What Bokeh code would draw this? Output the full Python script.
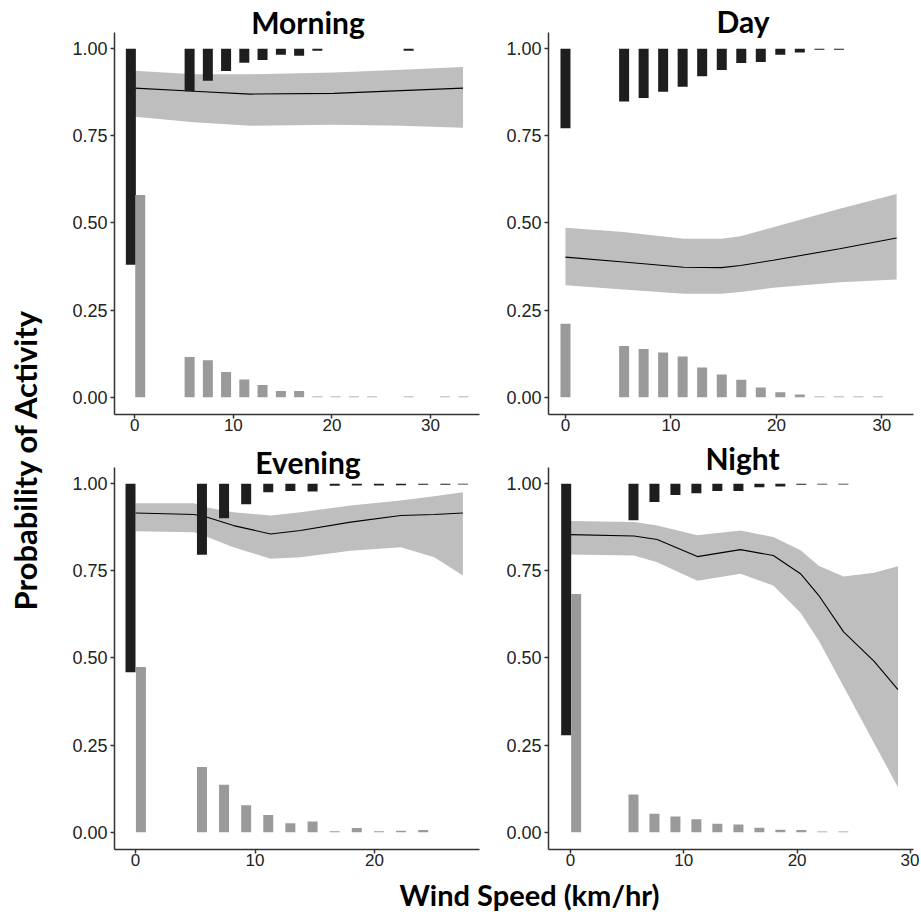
import math
from bokeh.plotting import figure
from bokeh.layouts import row, column
from bokeh.models import Range1d, FixedTicker, NumeralTickFormatter, Label, ColumnDataSource
from bokeh.embed import file_html
from bokeh.resources import INLINE

# ---------------- data ----------------
panel_titles = ["Morning", "Day", "Evening", "Night"]
x_axis_title = "Wind Speed (km/hr)"
y_axis_title = "Probability of Activity"
y_ticks = [0.0, 0.25, 0.5, 0.75, 1.0]

# Morning
morning_fit_x = [0, 6.0, 11.7, 20.2, 27.0, 33.3]
morning_fit = [0.887, 0.878, 0.870, 0.872, 0.880, 0.887]
morning_hi = [0.937, 0.927, 0.927, 0.932, 0.940, 0.948]
morning_lo = [0.805, 0.789, 0.779, 0.782, 0.779, 0.773]
morning_active_x = [-0.4, 5.56, 7.41, 9.26, 11.11, 12.96, 14.82, 16.67, 18.52, 27.78]
morning_active_end = [0.38, 0.878, 0.908, 0.936, 0.960, 0.968, 0.983, 0.980, 0.994, 0.994]
morning_inactive_x = [0.55, 5.56, 7.41, 9.26, 11.11, 12.96, 14.82, 16.67, 18.52, 20.37, 22.22, 24.08, 27.78, 31.48, 33.34]
morning_inactive_end = [0.58, 0.115, 0.106, 0.072, 0.051, 0.035, 0.018, 0.018, 0.002, 0.002, 0.002, 0.002, 0.002, 0.002, 0.002]
morning_xticks = [0, 10, 20, 30]

# Day
day_fit_x = [0, 5.5, 11.2, 14.8, 16.6, 19.7, 26.0, 31.4]
day_fit = [0.402, 0.388, 0.373, 0.372, 0.378, 0.393, 0.426, 0.457]
day_hi = [0.486, 0.474, 0.455, 0.455, 0.462, 0.488, 0.541, 0.583]
day_lo = [0.321, 0.309, 0.297, 0.297, 0.302, 0.314, 0.330, 0.338]
day_active_x = [0.0, 5.56, 7.41, 9.26, 11.11, 12.96, 14.82, 16.67, 18.52, 20.37, 22.22, 24.08, 25.93]
day_active_end = [0.772, 0.849, 0.859, 0.877, 0.891, 0.921, 0.939, 0.959, 0.962, 0.983, 0.989, 0.997, 0.997]
day_inactive_x = [0.0, 5.56, 7.41, 9.26, 11.11, 12.96, 14.82, 16.67, 18.52, 20.37, 22.22, 24.08, 25.93, 27.78, 29.63]
day_inactive_end = [0.211, 0.147, 0.138, 0.128, 0.117, 0.085, 0.065, 0.050, 0.028, 0.014, 0.0075, 0.002, 0.002, 0.002, 0.002]
day_xticks = [0, 10, 20, 30]

# Evening
evening_fit_x = [0, 4.9, 6.0, 8.2, 11.3, 13.8, 18.0, 22.2, 25.0, 27.4]
evening_fit = [0.916, 0.912, 0.904, 0.880, 0.856, 0.866, 0.890, 0.909, 0.912, 0.916]
evening_hi = [0.944, 0.944, 0.932, 0.918, 0.909, 0.918, 0.938, 0.952, 0.964, 0.976]
evening_lo = [0.864, 0.861, 0.847, 0.818, 0.785, 0.789, 0.808, 0.818, 0.789, 0.737]
evening_active_x = [-0.42, 5.56, 7.41, 9.26, 11.11, 12.96, 14.82, 16.67, 18.52, 20.37, 22.22, 24.08, 25.93, 27.4]
evening_active_end = [0.459, 0.796, 0.901, 0.941, 0.976, 0.979, 0.978, 0.994, 0.995, 0.995, 0.996, 0.997, 0.997, 0.998]
evening_inactive_x = [0.45, 5.56, 7.41, 9.26, 11.11, 12.96, 14.82, 16.67, 18.52, 20.37, 22.22, 24.08]
evening_inactive_end = [0.474, 0.187, 0.136, 0.077, 0.049, 0.026, 0.031, 0.003, 0.012, 0.003, 0.004, 0.006]
evening_xticks = [0, 10, 20]

# Night
night_fit_x = [0, 5.6, 7.65, 11.2, 15.0, 17.9, 20.3, 21.9, 24.1, 26.8, 28.9]
night_fit = [0.854, 0.850, 0.840, 0.791, 0.811, 0.794, 0.742, 0.680, 0.575, 0.490, 0.409]
night_hi = [0.893, 0.890, 0.880, 0.852, 0.866, 0.847, 0.809, 0.765, 0.734, 0.745, 0.763]
night_lo = [0.797, 0.794, 0.775, 0.722, 0.742, 0.708, 0.630, 0.550, 0.418, 0.255, 0.129]
night_active_x = [-0.38, 5.56, 7.41, 9.26, 11.11, 12.96, 14.82, 16.67, 18.52, 20.37, 22.22, 24.08]
night_active_end = [0.278, 0.895, 0.948, 0.968, 0.973, 0.979, 0.979, 0.990, 0.992, 0.997, 0.998, 0.998]
night_inactive_x = [0.5, 5.56, 7.41, 9.26, 11.11, 12.96, 14.82, 16.67, 18.52, 20.37, 22.22, 24.08]
night_inactive_end = [0.684, 0.108, 0.053, 0.045, 0.037, 0.024, 0.022, 0.013, 0.007, 0.006, 0.002, 0.002]
night_xticks = [0, 10, 20, 30]

# ---------------- styling / layout ----------------
TITLE_FONT = "Lato"
TICK_FONT = "Liberation Sans"
BLACK_BAR = "#1e1e1e"
GRAY_BAR = "#9a9a9a"
RIBBON = "#bebebe"
AXIS_COL = "#333333"
Y_BOTTOM = -0.0497
Y_AXIS_TOP = 1.0468
PX_PER_UNIT = 348.4


def make_panel(title, fit_x, fit, lo, hi, ax, aend, ix, iend, xticks,
               xr, left_border, right_border, frame_h, bottom_border, title_pos):
    y_top = Y_BOTTOM + frame_h / PX_PER_UNIT
    p = figure(frame_width=365, frame_height=frame_h,
               min_border_left=left_border, min_border_right=right_border,
               min_border_top=0, min_border_bottom=bottom_border,
               x_range=Range1d(*xr), y_range=Range1d(Y_BOTTOM, y_top),
               toolbar_location=None, output_backend="svg")
    p.outline_line_color = None
    p.xgrid.grid_line_color = None
    p.ygrid.grid_line_color = None
    p.background_fill_color = "white"
    p.border_fill_color = "white"

    p.varea(x=fit_x, y1=lo, y2=hi, fill_color=RIBBON, fill_alpha=1.0)
    p.line(x=fit_x, y=fit, line_color="black", line_width=1.1)

    src_a = ColumnDataSource(dict(x=ax, top=[1.0] * len(ax), end=aend))
    p.segment(x0="x", y0="top", x1="x", y1="end", source=src_a,
              line_color=BLACK_BAR, line_width=10, line_cap="butt")
    src_i = ColumnDataSource(dict(x=ix, base=[0.0] * len(ix), end=iend))
    p.segment(x0="x", y0="base", x1="x", y1="end", source=src_i,
              line_color=GRAY_BAR, line_width=10, line_cap="butt")

    p.xaxis.ticker = FixedTicker(ticks=xticks)
    p.yaxis.ticker = FixedTicker(ticks=y_ticks)
    p.yaxis.formatter = NumeralTickFormatter(format="0.00")
    p.yaxis.bounds = (Y_BOTTOM, Y_AXIS_TOP)
    for axis in (p.xaxis, p.yaxis):
        axis.axis_line_color = AXIS_COL
        axis.axis_line_width = 1.5
        axis.major_tick_line_color = AXIS_COL
        axis.major_tick_line_width = 1.5
        axis.major_tick_out = 4
        axis.major_tick_in = 0
        axis.minor_tick_line_color = None
        axis.major_label_text_font = TICK_FONT
        axis.major_label_text_color = "#222222"
    p.xaxis.major_label_text_font_size = "17px"
    p.yaxis.major_label_text_font_size = "18px"
    p.xaxis.major_label_standoff = 0
    p.yaxis.major_label_standoff = 3

    p.add_layout(Label(x=title_pos[0], y=title_pos[1], x_units="screen", y_units="screen",
                       text=title, text_font=TITLE_FONT, text_font_style="bold",
                       text_font_size="30px", text_color="black",
                       text_align="center", text_baseline="middle"))
    return p


morning = make_panel(panel_titles[0], morning_fit_x, morning_fit, morning_lo, morning_hi,
                     morning_active_x, morning_active_end, morning_inactive_x, morning_inactive_end,
                     morning_xticks, (-2.06, 34.97), 66, 21, 414, 24, (193.5, 392.7))
day = make_panel(panel_titles[1], day_fit_x, day_fit, day_lo, day_hi,
                 day_active_x, day_active_end, day_inactive_x, day_inactive_end,
                 day_xticks, (-1.61, 33.0), 48, 6, 414, 24, (194.5, 393.7))
evening = make_panel(panel_titles[2], evening_fit_x, evening_fit, evening_lo, evening_hi,
                     evening_active_x, evening_active_end, evening_inactive_x, evening_inactive_end,
                     evening_xticks, (-1.76, 28.79), 66, 21, 411, 27, (193.5, 387.3))
night = make_panel(panel_titles[3], night_fit_x, night_fit, night_lo, night_hi,
                   night_active_x, night_active_end, night_inactive_x, night_inactive_end,
                   night_xticks, (-1.94, 30.27), 48, 6, 411, 27, (194.0, 391.9))

# y-axis title strip
ylab = figure(width=48, height=876, x_range=Range1d(0, 1), y_range=Range1d(0, 1),
              x_axis_type=None, y_axis_type=None, min_border=0,
              toolbar_location=None, output_backend="svg")
ylab.outline_line_color = None
ylab.xgrid.grid_line_color = None
ylab.ygrid.grid_line_color = None
ylab.add_layout(Label(x=24.7, y=417, x_units="screen", y_units="screen", angle=math.pi / 2,
                      text=y_axis_title, text_font=TITLE_FONT, text_font_style="bold",
                      text_font_size="31px", text_color="black",
                      text_align="center", text_baseline="middle"))

# x-axis title strip
xlab = figure(width=919, height=37, x_range=Range1d(0, 1), y_range=Range1d(0, 1),
              x_axis_type=None, y_axis_type=None, min_border=0,
              toolbar_location=None, output_backend="svg")
xlab.outline_line_color = None
xlab.xgrid.grid_line_color = None
xlab.ygrid.grid_line_color = None
xlab.add_layout(Label(x=529, y=18.6, x_units="screen", y_units="screen",
                      text=x_axis_title, text_font=TITLE_FONT, text_font_style="bold",
                      text_font_size="29px", text_color="black",
                      text_align="center", text_baseline="middle"))

layout = column(row(ylab, column(row(morning, day), row(evening, night))), xlab)

open("out.html", "w").write(file_html(layout, INLINE))
